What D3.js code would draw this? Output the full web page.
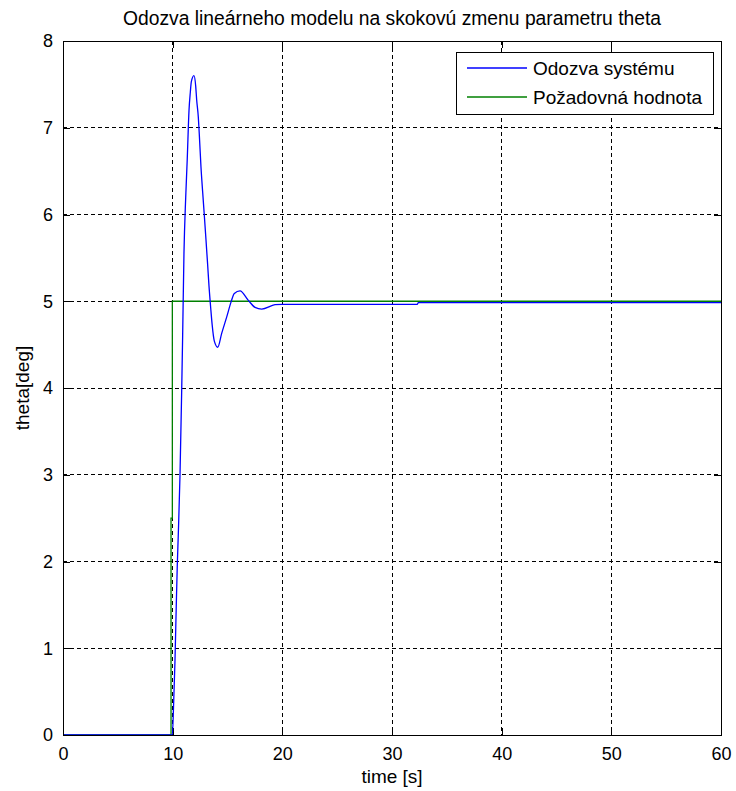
<!DOCTYPE html>
<html><head><meta charset="utf-8">
<script src="https://cdn.jsdelivr.net/npm/d3@7"></script>
<style>body{margin:0;background:#fff}text{font-family:"Liberation Sans",Arial,sans-serif;fill:#000}</style>
</head><body><svg id="c" width="736" height="791"></svg>
<script>
const title = "Odozva lineárneho modelu na skokovú zmenu parametru theta";
const xLabel = "time [s]";
const yLabel = "theta[deg]";
const xTicks = [0,10,20,30,40,50,60];
const yTicks = [0,1,2,3,4,5,6,7,8];
const legendNames = ["Odozva systému","Požadovná hodnota"];
const colors = ["#0000ff","#008000"];
// system response (blue)
const respT = [0,9.97,10.09,10.21,10.33,10.42,10.51,10.67,10.82,10.91,11.03,11.19,11.33,11.49,11.61,11.70,11.94,12.10,12.19,12.34,12.43,12.58,12.74,12.88,13.01,13.19,13.31,13.47,13.60,13.80,14.11,14.47,14.93,15.32,15.62,16.14,16.90,17.51,18.12,19.33,20.0,32.3,32.4,60];
const respV = [0,0,0.37,0.85,1.5,1.95,2.3,3.0,3.95,4.6,5.55,6.2,6.64,7.2,7.41,7.53,7.60,7.48,7.32,7.12,6.92,6.55,6.25,6.0,5.76,5.42,5.18,4.92,4.73,4.54,4.47,4.63,4.82,4.99,5.09,5.12,5.01,4.93,4.91,4.96,4.965,4.965,4.985,4.985];
// reference (green)
const refT = [0,9.85,9.85,9.97,9.97,60];
const refV = [0,0,2.5,2.5,5,5];

const FS = 19;
const svg = d3.select("#c");
const L=63,R=721,T=41,B=735;
const x = d3.scaleLinear().domain([0,60]).range([L,R]);
const y = d3.scaleLinear().domain([0,8]).range([B,T]);

// grid
const g = svg.append("g");
xTicks.slice(1,-1).forEach(t=>g.append("line").attr("x1",x(t)).attr("x2",x(t)).attr("y1",T).attr("y2",B)
  .attr("stroke","#000").attr("stroke-dasharray","4,3").attr("stroke-width",1).attr("shape-rendering","crispEdges"));
yTicks.slice(1,-1).forEach(t=>g.append("line").attr("y1",y(t)).attr("y2",y(t)).attr("x1",L).attr("x2",R)
  .attr("stroke","#000").attr("stroke-dasharray","4,3").attr("stroke-width",1).attr("shape-rendering","crispEdges"));

// axes with inward ticks
const ax = svg.append("g").attr("transform",`translate(0,${B})`).call(d3.axisBottom(x).tickValues(xTicks).tickSize(-7).tickPadding(12).tickFormat(d3.format("d")));
const axTop = svg.append("g").attr("transform",`translate(0,${T})`).call(d3.axisTop(x).tickValues(xTicks).tickSize(-7).tickFormat(""));
const ay = svg.append("g").attr("transform",`translate(${L},0)`).call(d3.axisLeft(y).tickValues(yTicks).tickSize(-7).tickPadding(10).tickFormat(d3.format("d")));
const ayR = svg.append("g").attr("transform",`translate(${R},0)`).call(d3.axisRight(y).tickValues(yTicks).tickSize(-7).tickFormat(""));
[ax,axTop,ay,ayR].forEach(a=>{a.select(".domain").remove();a.selectAll("line").attr("stroke","#000").attr("shape-rendering","crispEdges");
  a.selectAll("text").attr("font-size",18).attr("font-family","'Liberation Sans',Arial,sans-serif").attr("fill","#000");});

// lines
const lineStep = d3.line().x(d=>x(d[0])).y(d=>y(d[1]));
const lineSmooth = d3.line().x(d=>x(d[0])).y(d=>y(d[1])).curve(d3.curveMonotoneX);
svg.append("path").datum(refT.map((t,i)=>[t,refV[i]])).attr("d",lineStep).attr("fill","none").attr("stroke",colors[1]).attr("stroke-width",1.3);
svg.append("path").datum(respT.map((t,i)=>[t,respV[i]])).attr("d",lineSmooth).attr("fill","none").attr("stroke",colors[0]).attr("stroke-width",1.3);

// frame
svg.append("rect").attr("x",L).attr("y",T).attr("width",R-L).attr("height",B-T).attr("fill","none").attr("stroke","#000").attr("shape-rendering","crispEdges");

// titles
svg.append("text").attr("x",(L+R)/2).attr("y",25).attr("text-anchor","middle").attr("font-size",19.3).text(title);
svg.append("text").attr("x",(L+R)/2).attr("y",783).attr("text-anchor","middle").attr("font-size",FS).text(xLabel);
svg.append("text").attr("transform",`translate(29,${(T+B)/2}) rotate(-90)`).attr("text-anchor","middle").attr("font-size",FS).text(yLabel);

// legend
const lg = svg.append("g");
lg.append("rect").attr("x",456).attr("y",52).attr("width",257).attr("height",62).attr("fill","#fff").attr("stroke","#000").attr("shape-rendering","crispEdges");
legendNames.forEach((n,i)=>{
  const yy = 68 + i*29;
  lg.append("line").attr("x1",467).attr("x2",527).attr("y1",yy).attr("y2",yy).attr("stroke",colors[i]).attr("stroke-width",1.3);
  lg.append("text").attr("x",533).attr("y",yy+7).attr("font-size",FS).text(n);
});
</script></body></html>
